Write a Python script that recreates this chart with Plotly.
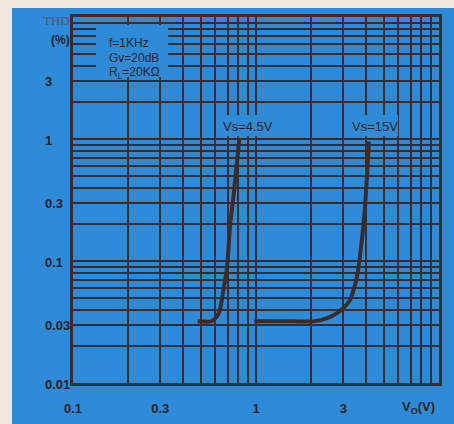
import math
import plotly.graph_objects as go

# ---- data ----
vs45_x = [0.48, 0.57, 0.61, 0.636, 0.66, 0.695, 0.72, 0.75, 0.78, 0.81]
vs45_y = [0.032, 0.032, 0.035, 0.040, 0.055, 0.089, 0.19, 0.32, 0.56, 1.0]

vs15_x = [0.98, 1.6, 2.05, 2.45, 2.77, 3.05, 3.27, 3.56, 3.79, 3.94, 4.04, 4.14]
vs15_y = [0.032, 0.032, 0.032, 0.034, 0.0374, 0.042, 0.048, 0.074, 0.149, 0.277, 0.5, 0.95]

x_grid_vals = [0.1, 0.2, 0.3, 0.4, 0.5, 0.6, 0.7, 0.8, 0.9,
               1, 2, 3, 4, 5, 6, 7, 8, 9, 10]
x_tick_labels = {0.1: "0.1", 0.3: "0.3", 1: "1", 3: "3"}

y_grid_vals = [0.01, 0.02, 0.03, 0.04, 0.05, 0.06, 0.07, 0.08, 0.09,
               0.1, 0.2, 0.3, 0.4, 0.5, 0.6, 0.7, 0.8, 0.9,
               1, 2, 3, 4, 5, 6, 7, 8, 9, 10]
y_label_vals = [0.01, 0.03, 0.1, 0.3, 1, 3]
y_label_text = ["0.01", "0.03", "0.1", "0.3", "1", "3"]

series_names = ["Vs=4.5V", "Vs=15V"]
cond_lines = ["f=1KHz", "Gv=20dB", "R<sub>L</sub>=20KΩ"]

# ---- style ----
BLUE = "rgb(46,139,216)"
BEIGE = "#efe9dc"
INK = "#3a2c2c"
TXT = "#2a2222"
SANS = "Liberation Sans, Arial"

fig = go.Figure()
for xs, ys, nm in [(vs45_x, vs45_y, series_names[0]), (vs15_x, vs15_y, series_names[1])]:
    fig.add_trace(go.Scatter(x=xs, y=ys, mode="lines", name=nm,
                             line=dict(color=INK, width=4, shape="spline", smoothing=0.6),
                             showlegend=False, hoverinfo="skip"))

axis_common = dict(type="log", showgrid=True, gridcolor=INK, gridwidth=1.6,
                   showline=True, linecolor=INK, linewidth=2.5, mirror=True,
                   zeroline=False, ticks="", automargin=False)

fig.update_xaxes(range=[-1, 1], tickvals=x_grid_vals,
                 ticktext=[x_tick_labels.get(v, "") for v in x_grid_vals],
                 tickfont=dict(family=SANS, size=13, color=TXT, weight="bold"),
                 ticklabelstandoff=12, **axis_common)
fig.update_yaxes(range=[-2, 1], tickvals=y_grid_vals,
                 ticktext=["" for _ in y_grid_vals], **axis_common)

shapes = [
    # blue board with beige scan margin on top/left
    dict(type="rect", xref="paper", yref="paper", x0=-0.1667, x1=1.2, y0=-0.3, y1=1.0246,
         fillcolor=BLUE, line=dict(width=0), layer="below"),
    # blank areas behind the condition box and curve labels
    dict(type="rect", xref="paper", yref="paper", x0=0.063, x1=0.26, y0=0.836, y1=0.978,
         fillcolor=BLUE, line=dict(width=0), layer="above"),
    dict(type="rect", xref="paper", yref="paper", x0=0.402, x1=0.552, y0=0.674, y1=0.732,
         fillcolor=BLUE, line=dict(width=0), layer="above"),
    dict(type="rect", xref="paper", yref="paper", x0=0.757, x1=0.888, y0=0.674, y1=0.732,
         fillcolor=BLUE, line=dict(width=0), layer="above"),
]

annotations = []
for v, t in zip(y_label_vals, y_label_text):
    annotations.append(dict(xref="paper", yref="y", x=-0.082, y=math.log10(v), text=t,
                            showarrow=False, xanchor="left", yanchor="middle", yshift=-1,
                            font=dict(family=SANS, size=13, color=TXT, weight="bold")))
annotations += [
    dict(xref="paper", yref="paper", x=-0.003, y=0.99, text="THD", showarrow=False,
         xanchor="right", yanchor="middle",
         font=dict(family="Liberation Serif, Times New Roman", size=13, color="#5b5660")),
    dict(xref="paper", yref="paper", x=-0.003, y=0.937, text="(%)", showarrow=False,
         xanchor="right", yanchor="middle",
         font=dict(family=SANS, size=12, color=TXT, weight="bold")),
    dict(xref="paper", yref="paper", x=0.945, y=-0.066, text="V<sub>O</sub>(V)",
         showarrow=False, xanchor="center", yanchor="middle",
         font=dict(family=SANS, size=13, color=TXT, weight="bold")),
    dict(xref="paper", yref="paper", x=0.477, y=0.7, text=series_names[0], showarrow=False,
         xanchor="center", yanchor="middle",
         font=dict(family=SANS, size=13, color=TXT)),
    dict(xref="paper", yref="paper", x=0.825, y=0.7, text=series_names[1], showarrow=False,
         xanchor="center", yanchor="middle",
         font=dict(family=SANS, size=13, color=TXT)),
]
for i, t in enumerate(cond_lines):
    annotations.append(dict(xref="paper", yref="paper", x=0.092, y=0.93 - i * 0.041, text=t,
                            showarrow=False, xanchor="left", yanchor="middle",
                            font=dict(family=SANS, size=12, color=TXT)))

fig.update_layout(width=454, height=424, margin=dict(l=73, r=15, t=17, b=41),
                  paper_bgcolor=BEIGE, plot_bgcolor="rgba(0,0,0,0)",
                  shapes=shapes, annotations=annotations)

fig.write_html("out.html", config={"displayModeBar": False},
               post_script="document.body.style.margin='0';"
                           "document.body.style.background='#efe9dc';")
